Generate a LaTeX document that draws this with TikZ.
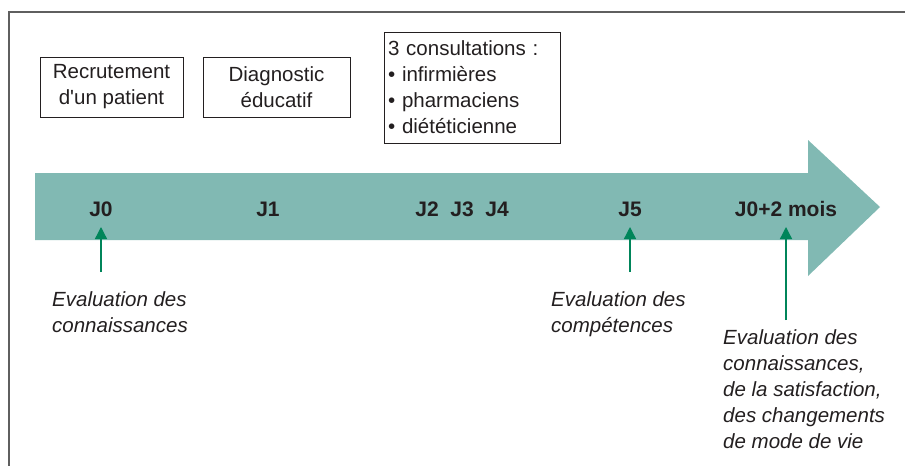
\documentclass[tikz,border=0pt]{standalone}
\usepackage{fontspec}
\setmainfont{Liberation Sans}
\usepackage{tkz-euclide}
\usetikzlibrary{arrows.meta}
\definecolor{bande}{RGB}{129,185,179}
\definecolor{vert}{RGB}{0,133,90}
\definecolor{encre}{RGB}{35,31,32}
\definecolor{cadre}{RGB}{95,95,95}

\begin{document}
\begin{tikzpicture}[x=1pt,y=-1pt,
  etape/.style={draw=encre,line width=1pt,align=center,text=encre,
    font=\fontsize{20.5}{26}\selectfont,inner sep=0pt},
  jour/.style={text=encre,font=\bfseries\fontsize{21}{24}\selectfont},
  bilan/.style={text=encre,align=left,anchor=north west,inner sep=0pt,
    font=\itshape\fontsize{20.5}{26}\selectfont},
  fleche/.style={vert,line width=1.3pt,-{Triangle[width=12pt,length=12pt]}}]
\useasboundingbox (0,0) rectangle (905,466);
\draw[cadre,line width=1.5pt] (905,12) -- (9,12) -- (9,466);
% the big arrow
\tkzDefPoint(35,173){A}
\tkzDefPoint(808,173){B}
\tkzDefPoint(808,140){C}
\tkzDefPoint(880,207){D}
\tkzDefPoint(808,276){E}
\tkzDefPoint(808,240){F}
\tkzDefPoint(35,240){G}
\tkzFillPolygon[fill = bande](A,B,C,D,E,F,G)
% steps
\node[etape,minimum width=143pt,minimum height=60pt] (recrut) at (111.5,87)
  {Recrutement\\d\textquotesingle un patient};
\node[etape,minimum width=147pt,minimum height=60pt] (diag) at (276.5,87)
  {Diagnostic\\éducatif};
\node[etape,align=left,text width=168pt,minimum height=111pt,inner sep=4pt]
  (consult) at (472,87.5)
  {3 consultations :\\\textbullet\ infirmières\\\textbullet\ pharmaciens\\\textbullet\ diététicienne};
% days
\node[jour] (j0) at (101,209) {J0};
\node[jour] (j1) at (268,209) {J1};
\node[jour] (j2) at (427,209) {J2};
\node[jour] (j3) at (462,209) {J3};
\node[jour] (j4) at (497,209) {J4};
\node[jour] (j5) at (630,209) {J5};
\node[jour] (j6) at (786,209) {J0+2 mois};
% evaluations
\coordinate (t0) at (101,227);
\coordinate (b0) at (101,272);
\coordinate (t5) at (630,227);
\coordinate (b5) at (630,272);
\coordinate (t6) at (786,227);
\coordinate (b6) at (786,320);
\draw[fleche] (b0) -- (t0);
\draw[fleche] (b5) -- (t5);
\draw[fleche] (b6) -- (t6);
\node[bilan] (e0) at (52,291) {Evaluation des\\connaissances};
\node[bilan] (e5) at (551,291) {Evaluation des\\compétences};
\node[bilan] (e6) at (723,329)
  {Evaluation des\\connaissances,\\de la satisfaction,\\des changements\\de mode de vie};
\end{tikzpicture}
\end{document}
